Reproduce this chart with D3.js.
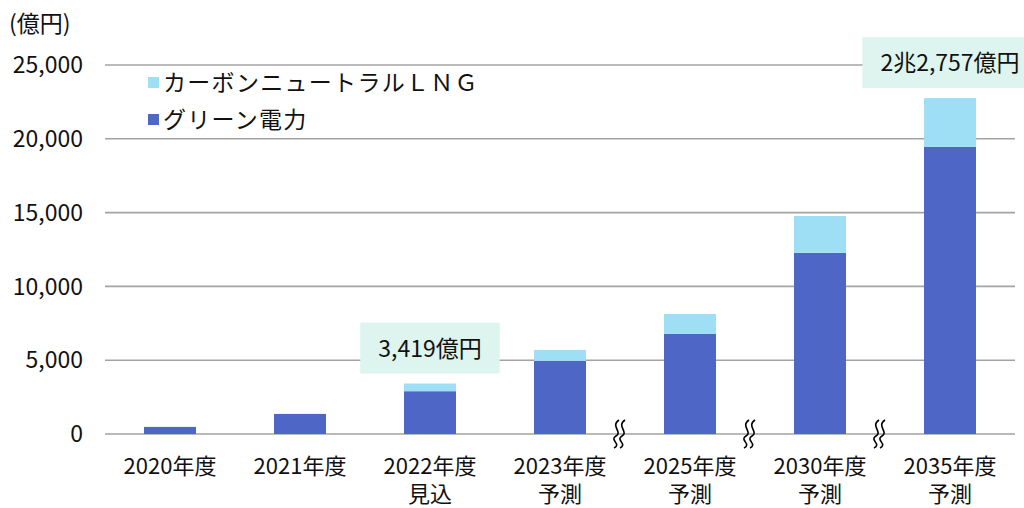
<!DOCTYPE html>
<html>
<head>
<meta charset="utf-8">
<script src="https://cdn.jsdelivr.net/npm/d3@7"></script>
<style>
  body { margin: 0; background: #fff; }
  text { font-family: "Noto Sans CJK JP", "Noto Sans", sans-serif; fill: #111; }
</style>
</head>
<body>
<svg id="chart" width="1024" height="508"></svg>
<script>
// categories (second line after \n)
var categories = ["2020年度", "2021年度", "2022年度\n見込", "2023年度\n予測", "2025年度\n予測", "2030年度\n予測", "2035年度\n予測"];
// series values (億円)
var greenPower = [480, 1360, 2900, 4950, 6780, 12270, 19450];
var cnLng = [0, 0, 519, 740, 1350, 2500, 3307];
var yTicks = [0, 5000, 10000, 15000, 20000, 25000];
var yTickLabels = ["0", "5,000", "10,000", "15,000", "20,000", "25,000"];
// callouts: category index and text
var calloutIndex = [2, 6];
var calloutText = ["3,419億円", "2兆2,757億円"];
// axis breaks after these category indices
var breakAfter = [3, 4, 5];

var svg = d3.select("#chart");
var margin = {left: 105, right: 9, top: 65, bottom: 74};
var width = 1024 - margin.left - margin.right,
    height = 508 - margin.top - margin.bottom;

var colorDark = "#4e67c7", colorLight = "#9fdff6";
var fs = "23px";

var x = d3.scaleBand().domain(d3.range(categories.length)).range([0, width]).paddingInner(0.6).paddingOuter(0.3);
var y = d3.scaleLinear().domain([0, 25000]).range([height, 0]);

var g = svg.append("g").attr("transform", "translate(" + margin.left + "," + margin.top + ")");

// gridlines
g.selectAll(".grid").data(yTicks).enter().append("line")
    .attr("x1", 0).attr("x2", width)
    .attr("y1", function(d) { return y(d); }).attr("y2", function(d) { return y(d); })
    .attr("stroke", "#a3a3a3").attr("stroke-width", 1.6);

// y labels
svg.selectAll(".ylab").data(yTicks).enter().append("text")
    .attr("x", 83).attr("y", function(d) { return margin.top + y(d); })
    .attr("dy", "0.36em").attr("text-anchor", "end")
    .style("font-size", fs)
    .text(function(d, i) { return yTickLabels[i]; });

svg.append("text").attr("x", 9).attr("y", 32).style("font-size", fs).text("(億円)");

// stacked bars
var stackData = categories.map(function(c, i) { return {i: i, green: greenPower[i], lng: cnLng[i]}; });
var series = d3.stack().keys(["green", "lng"])(stackData);
var colors = {green: colorDark, lng: colorLight};

g.selectAll(".series").data(series).enter().append("g")
    .attr("fill", function(d) { return colors[d.key]; })
  .selectAll("rect").data(function(d) { return d; }).enter().append("rect")
    .attr("x", function(d) { return x(d.data.i); })
    .attr("width", x.bandwidth())
    .attr("y", function(d) { return y(d[1]); })
    .attr("height", function(d) { return y(d[0]) - y(d[1]); });

// axis break marks
var step = x.step();
breakAfter.forEach(function(i) {
    var bx = x(i) + x.bandwidth() + (step - x.bandwidth()) / 2 - 6;
    var by = height;
    [-3, 3].forEach(function(off) {
        var px = bx + off;
        var p = d3.path();
        p.moveTo(px + 3, by - 14);
        p.bezierCurveTo(px - 6, by - 8, px + 7, by - 2, px, by + 2);
        p.bezierCurveTo(px - 7, by + 6, px + 6, by + 10, px - 2, by + 14);
        g.append("path").attr("d", p.toString()).attr("fill", "none")
            .attr("stroke", "#000").attr("stroke-width", 1.6);
    });
});

// x labels, one text per line
categories.forEach(function(c, i) {
    c.split("\n").forEach(function(l, k) {
        g.append("text")
            .attr("x", x(i) + x.bandwidth() / 2)
            .attr("y", height + 40 + k * 28)
            .attr("text-anchor", "middle")
            .style("font-size", "22px")
            .text(l);
    });
});

// callouts
calloutIndex.forEach(function(idx, k) {
    var total = greenPower[idx] + cnLng[idx];
    var cx = x(idx) + x.bandwidth() / 2;
    var bottom = y(total) - 10;
    var tmp = g.append("text").style("font-size", fs).text(calloutText[k]);
    var w = tmp.node().getComputedTextLength() + 36;
    tmp.remove();
    g.append("rect").attr("x", cx - w / 2).attr("y", bottom - 51).attr("width", w).attr("height", 51)
        .attr("fill", "#def4ef");
    g.append("text").attr("x", cx).attr("y", bottom - 25).attr("dy", "0.36em")
        .attr("text-anchor", "middle").style("font-size", fs).text(calloutText[k]);
});

// legend
var legendItems = [{label: "カーボンニュートラルＬＮＧ", color: colorLight}, {label: "グリーン電力", color: colorDark}];
var legend = svg.selectAll(".legend").data(legendItems).enter().append("g")
    .attr("transform", function(d, i) { return "translate(148," + (83 + i * 37) + ")"; });
legend.append("rect").attr("x", 0).attr("y", -6).attr("width", 11).attr("height", 11)
    .attr("fill", function(d) { return d.color; });
legend.append("text").attr("x", 15).attr("dy", "0.36em").style("font-size", fs)
    .style("letter-spacing", "1.3px")
    .text(function(d) { return d.label; });
</script>
</body>
</html>
